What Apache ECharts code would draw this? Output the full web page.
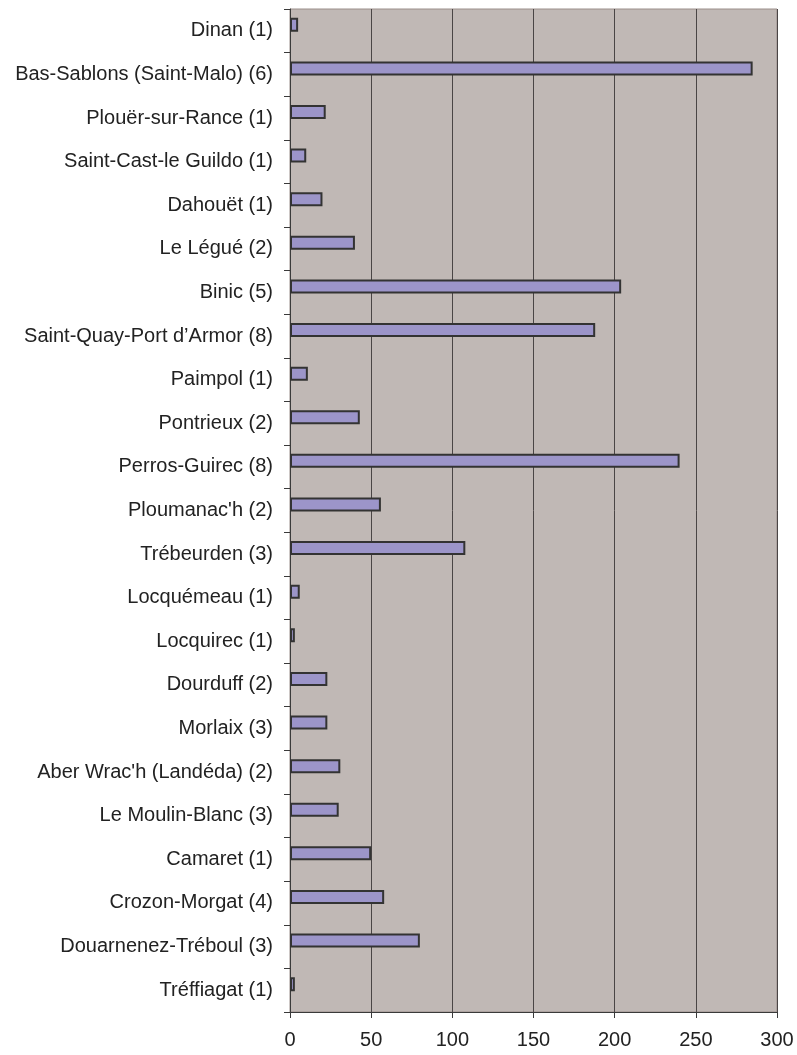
<!DOCTYPE html>
<html>
<head>
<meta charset="utf-8">
<script src="https://cdn.jsdelivr.net/npm/echarts@6/dist/echarts.min.js"></script>
<style>
  html, body { margin: 0; padding: 0; background: #ffffff; }
  #chart { width: 797px; height: 1055px; }
</style>
</head>
<body>
<div id="chart"></div>
<script>
const ports = [
  'Dinan (1)', 'Bas-Sablons (Saint-Malo) (6)', 'Plouër-sur-Rance (1)', 'Saint-Cast-le Guildo (1)',
  'Dahouët (1)', 'Le Légué (2)', 'Binic (5)', 'Saint-Quay-Port d\u2019Armor (8)', 'Paimpol (1)',
  'Pontrieux (2)', 'Perros-Guirec (8)', 'Ploumanac\'h (2)', 'Trébeurden (3)', 'Locquémeau (1)',
  'Locquirec (1)', 'Dourduff (2)', 'Morlaix (3)', 'Aber Wrac\'h (Landéda) (2)', 'Le Moulin-Blanc (3)',
  'Camaret (1)', 'Crozon-Morgat (4)', 'Douarnenez-Tréboul (3)', 'Tréffiagat (1)'
];
const values = [5, 285, 22, 10, 20, 40, 204, 188, 11, 43, 240, 56, 108, 6, 3, 23, 23, 31, 30, 50, 58, 80, 3];
const xTicks = [0, 50, 100, 150, 200, 250, 300];

const chart = echarts.init(document.getElementById('chart'));
const font = 'Liberation Sans, Arial, sans-serif';

chart.setOption({
  animation: false,
  grid: {
    left: 290, right: 20, top: 9, bottom: 43,
    show: true,
    backgroundColor: '#c0b8b5',
    borderColor: '#9a8e8a',
    borderWidth: 1
  },
  xAxis: {
    type: 'value',
    min: xTicks[0],
    max: xTicks[xTicks.length - 1],
    interval: 50,
    axisLine: { show: true, lineStyle: { color: '#3a3a3a', width: 1 } },
    axisTick: { show: true, length: 6, lineStyle: { color: '#3a3a3a' } },
    axisLabel: { color: '#222', fontSize: 20, fontFamily: font, margin: 18 },
    splitLine: { show: true, lineStyle: { color: '#4a4545', width: 1 } }
  },
  yAxis: {
    type: 'category',
    inverse: true,
    data: ports,
    axisLine: { show: true, lineStyle: { color: '#3a3a3a', width: 1 } },
    axisTick: { show: true, length: 6, lineStyle: { color: '#3a3a3a' } },
    axisLabel: { color: '#222', fontSize: 20, fontFamily: font, margin: 17 },
    splitLine: { show: false }
  },
  series: [
    {
      type: 'bar',
      data: values,
      barWidth: 14,
      barGap: '-14%',
      itemStyle: { color: '#9c95c9', borderColor: '#333333', borderWidth: 2 }
    },
    // empty companion series: keeps the bars just above the category centre, as in the original
    { type: 'bar', data: [], barWidth: 14 }
  ]
});
</script>
</body>
</html>
